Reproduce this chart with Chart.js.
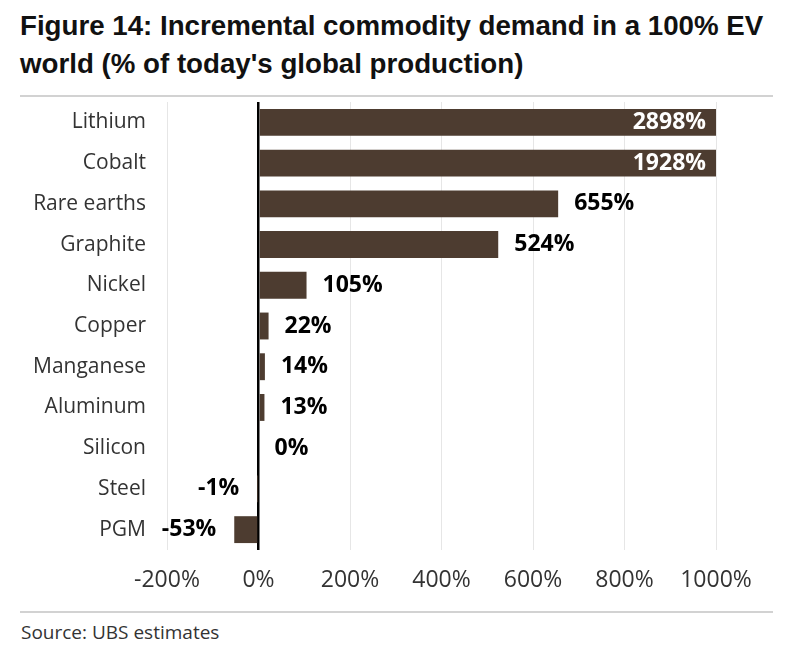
<!DOCTYPE html>
<html>
<head>
<meta charset="utf-8">
<script src="https://cdn.jsdelivr.net/npm/chart.js@4"></script>
<style>
	body { margin: 0; background: #fff; width: 800px; height: 651px; position: relative; overflow: hidden; }
	#title { position: absolute; left: 20px; top: 7px; font: bold 27.7px "Liberation Sans Narrow", "Liberation Sans", sans-serif; line-height: 38px; color: #111; }
	.rule { position: absolute; left: 20px; width: 753px; height: 2px; background: #d2d2d2; }
	#source { position: absolute; left: 21px; top: 619px; font: 19px "Open Sans", sans-serif; color: #333; }
	#wrap { position: absolute; left: 0; top: 100px; width: 800px; height: 505px; }
</style>
</head>
<body>
<div id="title">Figure 14: Incremental commodity demand in a 100% EV<br>world (% of today's global production)</div>
<div class="rule" style="top:95px"></div>
<div id="wrap"><canvas id="chart"></canvas></div>
<div class="rule" style="top:611px"></div>
<div id="source">Source: UBS estimates</div>
<script>
// Data
var commodities = ['Lithium', 'Cobalt', 'Rare earths', 'Graphite', 'Nickel', 'Copper', 'Manganese', 'Aluminum', 'Silicon', 'Steel', 'PGM'];
var demand = [2898, 1928, 655, 524, 105, 22, 14, 13, 0, -1, -53];
var axisMin = -200;
var axisMax = 1000;

var barColor = '#4d3c30';

// value labels next to / inside the bars
var valueLabels = {
	id: 'valueLabels',
	afterDatasetsDraw: function(chart) {
		var ctx = chart.ctx;
		var meta = chart.getDatasetMeta(0);
		var area = chart.chartArea;
		ctx.save();
		ctx.font = 'bold 23px "Open Sans", sans-serif';
		ctx.textBaseline = 'middle';
		meta.data.forEach(function(bar, i) {
			var v = demand[i];
			var txt = v + '%';
			if (v > axisMax) {
				ctx.fillStyle = '#fff';
				ctx.textAlign = 'right';
				ctx.fillText(txt, area.right - 10, bar.y);
			} else if (v < 0) {
				ctx.fillStyle = '#000';
				ctx.textAlign = 'right';
				ctx.fillText(txt, Math.min(bar.x, bar.base) - 18, bar.y);
			} else {
				ctx.fillStyle = '#000';
				ctx.textAlign = 'left';
				ctx.fillText(txt, Math.max(bar.x, bar.base) + 16, bar.y);
			}
		});
		ctx.restore();
	}
};

var ctx = document.getElementById('chart').getContext('2d');
var chart = new Chart(ctx, {
	type: 'bar',
	data: {
		labels: commodities,
		datasets: [{
			data: demand,
			backgroundColor: barColor,
			borderWidth: 0,
			categoryPercentage: 1,
			barPercentage: 0.66
		}]
	},
	plugins: [valueLabels],
	options: {
		indexAxis: 'y',
		responsive: true,
		maintainAspectRatio: false,
		animation: false,
		layout: { padding: { top: 2, right: 84, bottom: 0, left: 0 } },
		plugins: {
			legend: { display: false },
			tooltip: { enabled: false }
		},
		scales: {
			x: {
				min: axisMin,
				max: axisMax,
				afterFit: function(scale) { scale.height = 55; },
				border: { display: false },
				grid: {
					drawTicks: false,
					color: function(c) { return c.tick && c.tick.value === 0 ? '#000' : '#e6e6e6'; },
					lineWidth: function(c) { return c.tick && c.tick.value === 0 ? 2.5 : 1; }
				},
				ticks: {
					stepSize: 200,
					padding: 17,
					color: '#333',
					font: { family: 'Open Sans', size: 23 },
					callback: function(v) { return v + '%'; }
				}
			},
			y: {
				afterFit: function(scale) {
					scale.width = 167;
					scale.paddingTop = 0;
					scale.paddingBottom = 0;
				},
				border: { display: false },
				grid: { display: false, drawTicks: false },
				ticks: {
					padding: 21,
					color: '#333',
					font: { family: 'Open Sans', size: 21 }
				}
			}
		}
	}
});
</script>
</body>
</html>
